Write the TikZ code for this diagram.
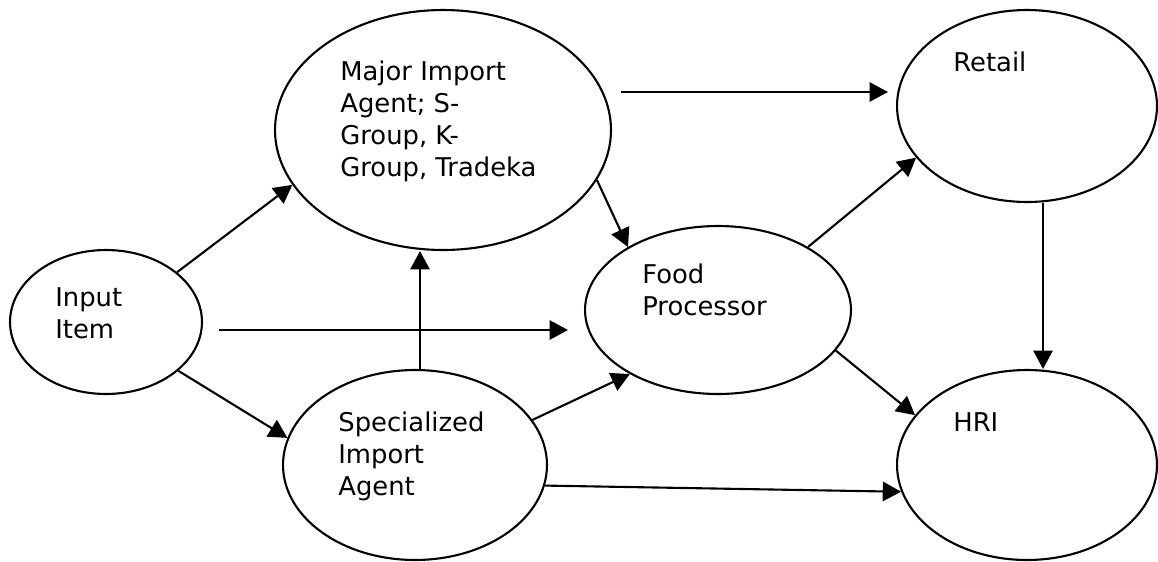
\documentclass[tikz,border=0pt]{standalone}
\usepackage{fontspec}
\setmainfont{DejaVu Sans}
\usetikzlibrary{arrows.meta, calc, shapes.geometric}
\tikzset{
    stage/.style={draw, ellipse, line width=1.2pt, inner sep=0pt},
    tag/.style={anchor=north west, align=left, inner sep=0pt, font=\fontsize{14.7}{18.2}\selectfont},
    flow/.style={-{Triangle[length=10.5pt, width=11pt]}, line width=1.2pt}
}

\begin{document}
\begin{tikzpicture}[x=0.02cm, y=-0.02cm]
    \useasboundingbox (0,0) rectangle (1158,561);
    % Stages
    \node[stage, minimum width=3.84cm, minimum height=2.88cm] (input) at (106,322) {};
    \node[stage, minimum width=6.72cm, minimum height=4.8cm] (major) at (443,130) {};
    \node[stage, minimum width=5.28cm, minimum height=3.8cm] (spec) at (415,465) {};
    \node[stage, minimum width=5.32cm, minimum height=3.36cm] (food) at (718,310) {};
    \node[stage, minimum width=5.2cm, minimum height=3.84cm] (retail) at (1027,106) {};
    \node[stage, minimum width=5.2cm, minimum height=3.8cm] (hri) at (1027,465) {};
    % Labels
    \node[tag] (inputtxt) at (55,287) {Input\\Item};
    \node[tag] (majortxt) at (340,61) {Major Import\\Agent; S-\\Group, K-\\Group, Tradeka};
    \node[tag] (spectxt) at (338,412) {Specialized\\Import\\Agent};
    \node[tag] (foodtxt) at (642,264) {Food\\Processor};
    \node[tag] (retailtxt) at (953,52) {Retail};
    \node[tag] (hritxt) at (953,412) {HRI};
    % Flows
    \draw[flow] (input.35) -- (major.200);
    \draw[flow] ($(input.east)+(16,8)$) -- ($(food.west |- input.east)+(-16,8)$);
    \draw[flow] (input.-34) -- (spec.168);
    \draw[flow] ([xshift=0.1cm]spec.north) -- ([xshift=0.1cm]spec.north |- major.south);
    \draw[flow] ($(major.east)+(9,-38)$) -- ($(retail.west)+(-8,-14)$);
    \draw[flow] (major.-18) -- (food.145);
    \draw[flow] (spec.21) -- (food.216);
    \draw[flow] (spec.-9) -- (hri.192);
    \draw[flow] (food.35) -- (retail.205);
    \draw[flow] (food.-19) -- (hri.156);
    \draw[flow] ($(retail.south)+(16,0)$) -- ($(hri.north)+(16,0)$);
\end{tikzpicture}
\end{document}
